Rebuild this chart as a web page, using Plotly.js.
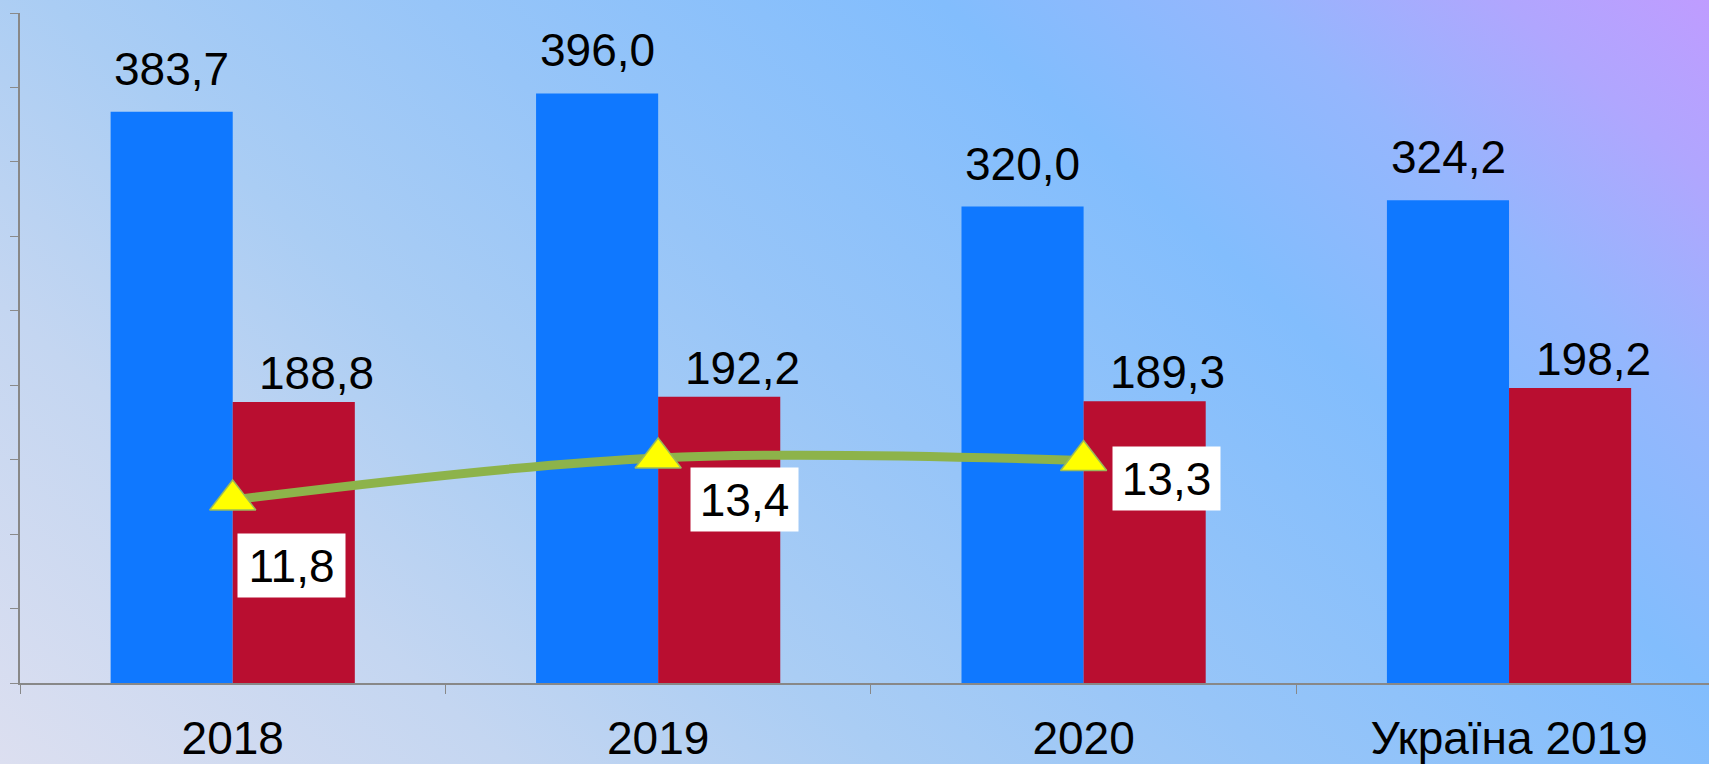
<!DOCTYPE html>
<html>
<head>
<meta charset="utf-8">
<script src="https://cdn.plot.ly/plotly-3.0.1.min.js"></script>
<style>
  html, body { margin: 0; padding: 0; }
  body {
    width: 1709px; height: 764px; overflow: hidden;
    background: linear-gradient(42deg, #dcdff0 0%, #c4d6f1 20%, #aacdf4 35%, #97c5f8 50%, #82bdfd 70%, #95b6fd 82%, #b0a6fe 92%, #bf9cff 100%);
  }
  #chart { width: 1709px; height: 764px; }
</style>
</head>
<body>
<div id="chart"></div>
<script>
var categories = ['2018', '2019', '2020', 'Україна 2019'];
var blueValues = [383.7, 396.0, 320.0, 324.2];
var redValues = [188.8, 192.2, 189.3, 198.2];
var lineValues = [11.8, 13.4, 13.3, null];

// label box offsets (px) from each triangle marker
var lineLabelShiftX = [59, 86, 83];
var lineLabelShiftY = [-66, -42, -18];

var FONT = 'Liberation Sans, Arial, sans-serif';

function fmt(v) {
  return v.toFixed(1).replace('.', ',');
}

var blue = {
  x: categories,
  y: blueValues,
  type: 'bar',
  name: 'blue',
  marker: {color: '#0f78ff'}
};

var red = {
  x: categories,
  y: redValues,
  type: 'bar',
  name: 'red',
  marker: {color: '#b90e30'}
};

var line = {
  x: categories,
  y: lineValues,
  yaxis: 'y2',
  type: 'scatter',
  mode: 'lines+markers',
  name: 'line',
  line: {color: '#8db34a', width: 9, shape: 'spline', smoothing: 1},
  marker: {symbol: 'triangle-up', size: 40, color: '#ffff00', line: {color: '#9bbb59', width: 1.5}},
  cliponaxis: false
};

var annotations = [];

// value labels above bars (x given as category index, since the names look numeric)
// [values, xshift, yshift]
var barLabelSets = [[blueValues, -61, 15], [redValues, 84, 1]];
categories.forEach(function(c, i) {
  barLabelSets.forEach(function(s) {
    annotations.push({
      x: i,
      y: s[0][i],
      xref: 'x',
      yref: 'y',
      text: fmt(s[0][i]),
      showarrow: false,
      xshift: s[1],
      yanchor: 'bottom',
      yshift: s[2],
      font: {family: FONT, size: 46, color: '#000'}
    });
  });
});

// boxed labels for the line
lineValues.forEach(function(v, i) {
  if (v === null) return;
  annotations.push({
    x: i,
    y: v,
    xref: 'x',
    yref: 'y2',
    text: fmt(v),
    showarrow: false,
    xshift: lineLabelShiftX[i],
    yshift: lineLabelShiftY[i],
    width: 99,
    height: 55,
    bgcolor: '#ffffff',
    borderpad: 4,
    font: {family: FONT, size: 46, color: '#000'}
  });
});

var layout = {
  width: 1709,
  height: 764,
  margin: {l: 20, r: 0, t: 13, b: 81},
  paper_bgcolor: 'rgba(0,0,0,0)',
  plot_bgcolor: 'rgba(0,0,0,0)',
  barmode: 'group',
  bargap: 0.426,
  bargroupgap: 0,
  showlegend: false,
  font: {family: FONT, size: 46, color: '#000'},
  xaxis: {
    type: 'category',
    range: [-0.5, 3.47],
    showline: true,
    linecolor: '#888888',
    linewidth: 2,
    ticks: 'outside',
    tickson: 'boundaries',
    ticklen: 9,
    tickcolor: '#888888',
    tickwidth: 1,
    ticklabelstandoff: 14,
    tickfont: {family: FONT, size: 46, color: '#000'},
    showgrid: false,
    zeroline: false
  },
  yaxis: {
    range: [0, 450],
    tickvals: [0, 50, 100, 150, 200, 250, 300, 350, 400, 450],
    showticklabels: false,
    showline: true,
    linecolor: '#888888',
    linewidth: 2,
    ticks: 'outside',
    ticklen: 8,
    tickcolor: '#8a8a8a',
    tickwidth: 1,
    showgrid: false,
    zeroline: false
  },
  yaxis2: {
    overlaying: 'y',
    side: 'right',
    range: [4.83, 30.34],
    showticklabels: false,
    showline: false,
    ticks: '',
    showgrid: false,
    zeroline: false
  },
  annotations: annotations
};

Plotly.newPlot('chart', [blue, red, line], layout, {displayModeBar: false, staticPlot: true});
</script>
</body>
</html>
